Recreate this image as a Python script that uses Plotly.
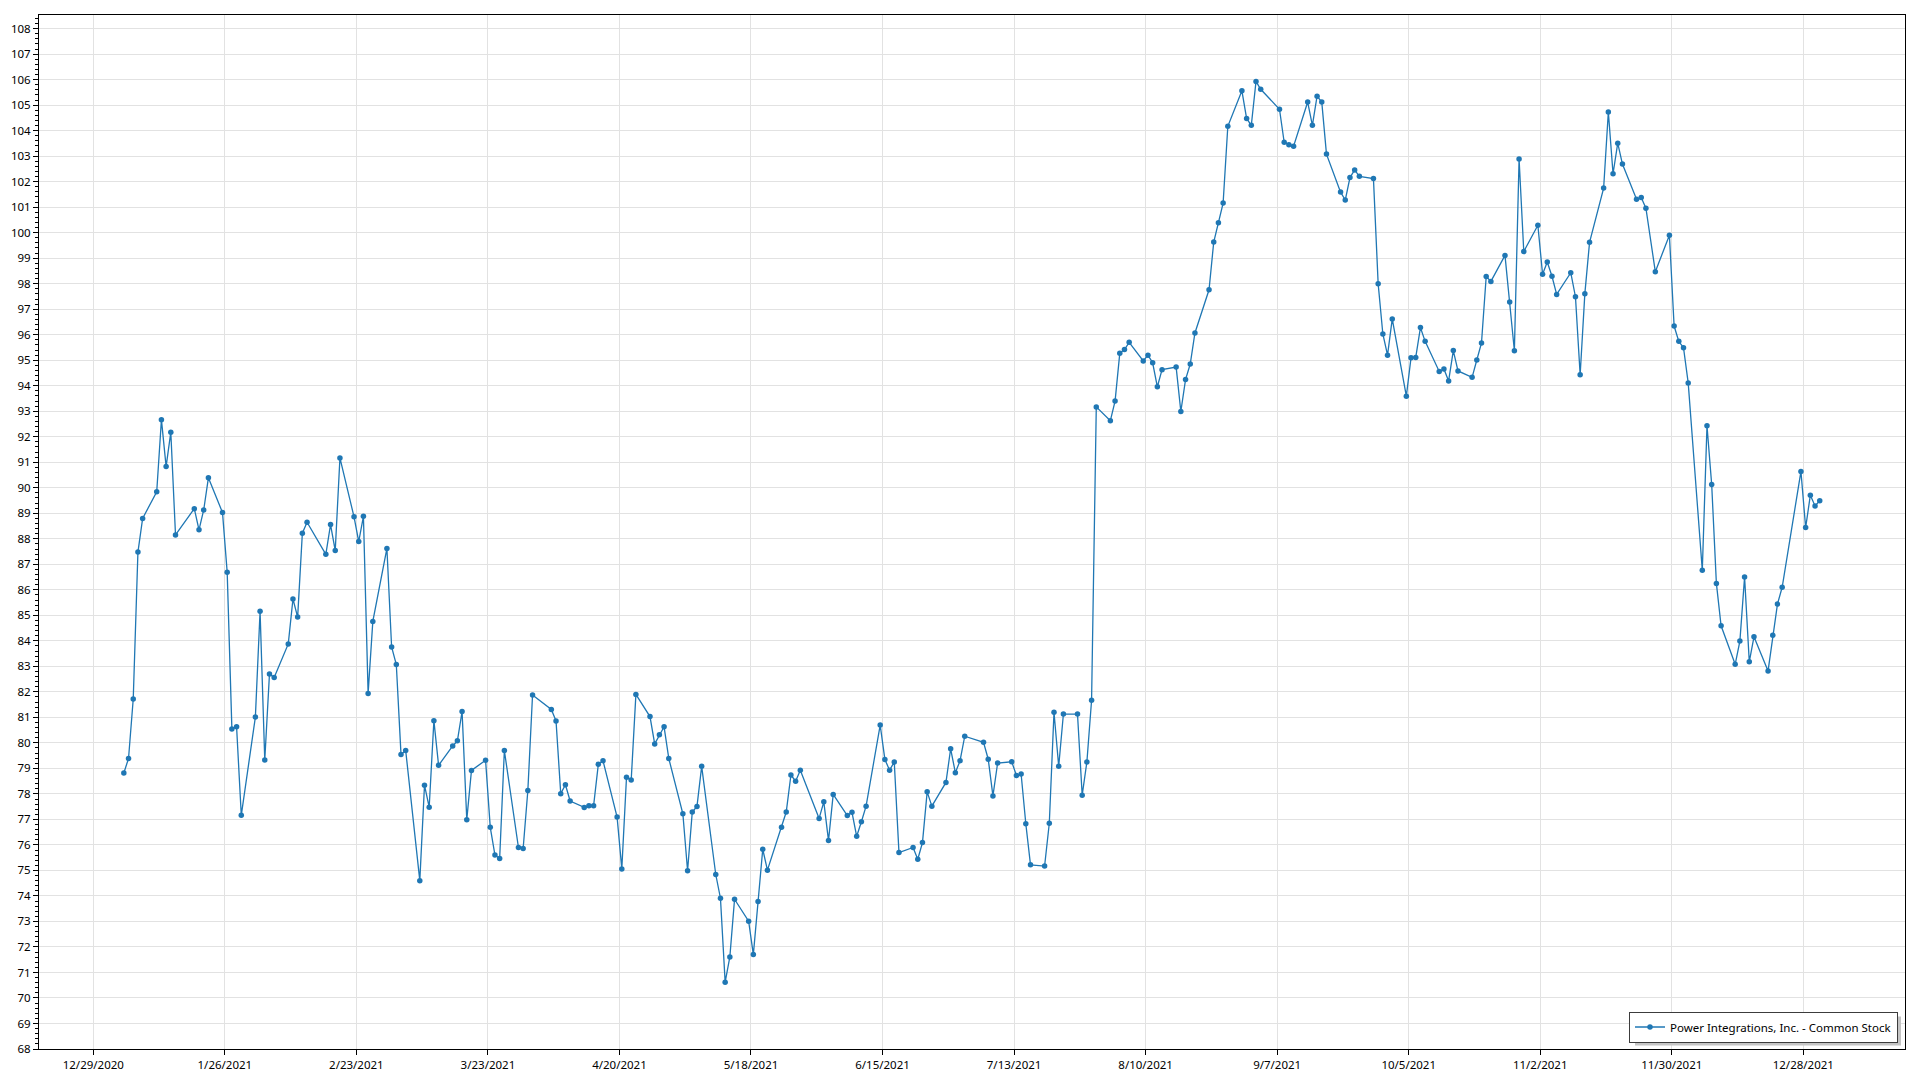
import pandas as pd
import plotly.graph_objects as go

series_name = "Power Integrations, Inc. - Common Stock"
year = 2021

jan_days = [4, 5, 6, 7, 8, 11, 12, 13, 14, 15, 19, 20, 21, 22, 25, 26, 27, 28, 29]
jan_close = [78.82, 79.39, 81.72, 87.48, 88.80, 89.84, 92.67, 90.83, 92.18, 88.15, 89.18, 88.35, 89.13, 90.39, 89.03, 86.69, 80.54, 80.63, 77.16]

feb_days = [1, 2, 3, 4, 5, 8, 9, 10, 11, 12, 16, 17, 18, 19, 22, 23, 24, 25, 26]
feb_close = [81.01, 85.16, 79.33, 82.70, 82.56, 83.88, 85.64, 84.93, 88.22, 88.65, 87.39, 88.56, 87.54, 91.17, 88.86, 87.89, 88.88, 81.94, 84.76]

mar_days = [1, 2, 3, 4, 5, 8, 9, 10, 11, 12, 15, 16, 17, 18, 19, 22, 23, 24, 25, 26, 29, 30, 31]
mar_close = [87.62, 83.76, 83.07, 79.54, 79.70, 74.60, 78.34, 77.48, 80.87, 79.12, 79.88, 80.08, 81.23, 76.99, 78.92, 79.32, 76.69, 75.60, 75.47, 79.70, 75.90, 75.86, 78.13]

apr_days = [1, 5, 6, 7, 8, 9, 12, 13, 14, 15, 16, 19, 20, 21, 22, 23, 26, 27, 28, 29, 30]
apr_close = [81.88, 81.31, 80.86, 78.01, 78.36, 77.72, 77.47, 77.54, 77.54, 79.16, 79.30, 77.09, 75.06, 78.65, 78.54, 81.90, 81.03, 79.96, 80.32, 80.63, 79.39]

may_days = [3, 4, 5, 6, 7, 10, 11, 12, 13, 14, 17, 18, 19, 20, 21, 24, 25, 26, 27, 28]
may_close = [77.22, 74.99, 77.29, 77.51, 79.08, 74.84, 73.91, 70.62, 71.61, 73.87, 73.01, 71.70, 73.78, 75.83, 75.01, 76.69, 77.29, 78.74, 78.50, 78.93]

jun_days = [1, 2, 3, 4, 7, 8, 9, 10, 11, 14, 15, 16, 17, 18, 21, 22, 23, 24, 25, 28, 29, 30]
jun_close = [77.04, 77.69, 76.17, 77.98, 77.15, 77.28, 76.34, 76.91, 77.52, 80.70, 79.35, 78.93, 79.25, 75.70, 75.90, 75.44, 76.09, 78.08, 77.52, 78.45, 79.77, 78.83]

jul_days = [1, 2, 6, 7, 8, 9, 12, 13, 14, 15, 16, 19, 20, 21, 22, 23, 26, 27, 28, 29, 30]
jul_close = [79.30, 80.26, 80.02, 79.36, 77.92, 79.21, 79.26, 78.72, 78.78, 76.83, 75.22, 75.17, 76.85, 81.20, 79.08, 81.13, 81.13, 77.95, 79.25, 81.67, 93.17]

aug_days = [2, 3, 4, 5, 6, 9, 10, 11, 12, 13, 16, 17, 18, 19, 20, 23, 24, 25, 26, 27, 30, 31]
aug_close = [92.63, 93.40, 95.27, 95.42, 95.70, 94.97, 95.20, 94.90, 93.96, 94.63, 94.73, 92.99, 94.24, 94.85, 96.07, 97.76, 99.63, 100.39, 101.16, 104.17, 105.56, 104.48]

sep_days = [1, 2, 3, 7, 8, 9, 10, 13, 14, 15, 16, 17, 20, 21, 22, 23, 24, 27, 28, 29, 30]
sep_close = [104.21, 105.93, 105.62, 104.84, 103.54, 103.45, 103.39, 105.12, 104.21, 105.35, 105.12, 103.08, 101.59, 101.28, 102.16, 102.46, 102.21, 102.12, 98.00, 96.03, 95.20]

oct_days = [1, 4, 5, 6, 7, 8, 11, 12, 13, 14, 15, 18, 19, 20, 21, 22, 25, 26, 27, 28, 29]
oct_close = [96.62, 93.59, 95.10, 95.11, 96.28, 95.74, 94.56, 94.66, 94.19, 95.38, 94.58, 94.33, 95.01, 95.68, 98.28, 98.09, 99.11, 97.28, 95.37, 102.89, 99.26]

nov_days = [1, 2, 3, 4, 5, 8, 9, 10, 11, 12, 15, 16, 17, 18, 19, 22, 23, 24, 26, 29, 30]
nov_close = [100.29, 98.37, 98.85, 98.29, 97.58, 98.43, 97.49, 94.43, 97.61, 99.62, 101.75, 104.73, 102.31, 103.51, 102.69, 101.31, 101.38, 100.96, 98.47, 99.90, 96.34]

dec_days = [1, 2, 3, 6, 7, 8, 9, 10, 13, 14, 15, 16, 17, 20, 21, 22, 23, 27, 28, 29, 30, 31]
dec_close = [95.74, 95.49, 94.11, 86.77, 92.43, 90.13, 86.25, 84.59, 83.08, 83.99, 86.50, 83.18, 84.16, 82.82, 84.22, 85.44, 86.10, 90.64, 88.44, 89.71, 89.29, 89.49]

month_days = [jan_days, feb_days, mar_days, apr_days, may_days, jun_days,
              jul_days, aug_days, sep_days, oct_days, nov_days, dec_days]
month_close = [jan_close, feb_close, mar_close, apr_close, may_close, jun_close,
               jul_close, aug_close, sep_close, oct_close, nov_close, dec_close]

x_tick_start = "2020-12-29"
x_tick_step_days = 28
y_min = 68

dates, closes = [], []
for m, (days, vals) in enumerate(zip(month_days, month_close), start=1):
    for d, v in zip(days, vals):
        # points sit at mid-day relative to the midnight date ticks
        dates.append(pd.Timestamp(year, m, d) + pd.Timedelta(hours=12))
        closes.append(v)

# page body has an 8px default margin; size the figure so it fills the 1920x1080 view
body = 8
W, H = 1920 - 2 * body, 1080 - 2 * body
plot_left, plot_right, plot_top, plot_bottom = 39, 1905, 15, 1049  # screen px
ml, mt = plot_left - body, plot_top - body
mr, mb = (body + W) - plot_right, (body + H) - plot_bottom
pw, ph = plot_right - plot_left, plot_bottom - plot_top

px_per_day = 4.6978
px_per_unit = 25.51
tick0_screen_x = 93.3
tick0 = pd.Timestamp(x_tick_start)
x_left = tick0 - pd.Timedelta(days=(tick0_screen_x - plot_left) / px_per_day)
x_right = tick0 + pd.Timedelta(days=(plot_right - tick0_screen_x) / px_per_day)
y_top = y_min + ph / px_per_unit

color = "#1f77b4"
font_family = "Segoe UI, Noto Sans, Open Sans, sans-serif"
font_size = 11.5

fig = go.Figure()
fig.add_trace(go.Scatter(
    x=dates, y=closes, mode="lines+markers", name=series_name,
    line=dict(color=color, width=1.3),
    marker=dict(color=color, size=5.5, line=dict(width=0)),
    showlegend=True,
))

# legend placement (inside plot, bottom-right) and its drop shadow
leg_inset_r, leg_inset_b = 7, 6.5
leg_w_est, leg_h_est = 266, 29
shadow_off = 3
leg_r = plot_right - leg_inset_r
leg_b = plot_bottom - leg_inset_b
sh_x0 = leg_r - leg_w_est + shadow_off
sh_x1 = leg_r + shadow_off
sh_y0 = leg_b - leg_h_est + shadow_off
sh_y1 = leg_b + shadow_off
fig.add_shape(
    type="rect", xref="paper", yref="paper", layer="above",
    x0=(sh_x0 - plot_left) / pw, x1=(sh_x1 - plot_left) / pw,
    y0=(plot_bottom - sh_y1) / ph, y1=(plot_bottom - sh_y0) / ph,
    fillcolor="#c4c4c4", line=dict(width=0),
)

grid = "#e2e2e2"
fig.update_layout(
    width=W, height=H,
    autosize=False,
    margin=dict(l=ml, r=mr, t=mt, b=mb, pad=0, autoexpand=False),
    paper_bgcolor="white", plot_bgcolor="white",
    font=dict(family=font_family, size=font_size, color="#000000"),
    showlegend=True,
    legend=dict(
        x=1 - leg_inset_r / pw, xanchor="right", y=leg_inset_b / ph, yanchor="bottom",
        bgcolor="white", bordercolor="#3c3c3c", borderwidth=1,
        font=dict(family=font_family, size=font_size, color="#000000"),
        itemwidth=30, tracegroupgap=0,
    ),
    xaxis=dict(
        type="date", range=[x_left, x_right], automargin=False,
        tickmode="linear", tick0=x_tick_start, dtick=x_tick_step_days * 86400000,
        tickformat="%-m/%-d/%Y",
        showgrid=True, gridcolor=grid, gridwidth=1,
        showline=True, linecolor="black", linewidth=1, mirror=True,
        ticks="outside", ticklen=5, tickcolor="black", tickwidth=1,
        zeroline=False,
    ),
    yaxis=dict(
        range=[y_min, y_top], automargin=False,
        tickmode="linear", tick0=y_min, dtick=1,
        showgrid=True, gridcolor=grid, gridwidth=1,
        showline=True, linecolor="black", linewidth=1, mirror=True,
        ticks="outside", ticklen=5, tickcolor="black", tickwidth=1,
        minor=dict(dtick=0.2, ticks="outside", ticklen=3, tickcolor="black", showgrid=False),
        zeroline=False,
    ),
)

fig.write_html("out.html")
